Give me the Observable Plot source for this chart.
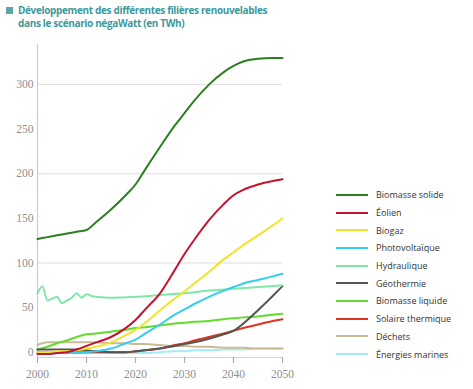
<!DOCTYPE html>
<html><head><meta charset="utf-8">
<script src="https://cdn.jsdelivr.net/npm/d3@7"></script>
<script src="https://cdn.jsdelivr.net/npm/@observablehq/plot@0.6"></script>
<style>
html,body{margin:0;padding:0;background:#fff;}
#wrap{position:relative;width:473px;height:389px;overflow:hidden;}
#title{position:absolute;left:18px;top:4px;font-family:"Open Sans",sans-serif;font-weight:700;font-size:10px;line-height:13px;color:#3d9a9c;letter-spacing:-0.35px;}
#sq{position:absolute;left:6px;top:7px;width:7px;height:7px;background:#5aa6a6;}
#legend{position:absolute;left:336px;top:186px;font-family:"Open Sans",sans-serif;font-size:9px;color:#333;}
.li{height:17.7px;display:flex;align-items:center;}
.sw{width:32px;height:2px;margin-right:8px;}
</style></head>
<body><div id="wrap"><div id="sq"></div><div id="title">Développement des différentes filières renouvelables<br>dans le scénario négaWatt (en TWh)</div><div id="legend"></div></div>
<script>
const years = [2000,2002,2004,2006,2008,2010,2012,2015,2018,2020,2022,2025,2028,2030,2032,2035,2038,2040,2042,2045,2048,2050];
const biomasseSolide = [127,129,131,133,135,137,146,160,176,188,205,230,254,268,282,300,314,321,326,329,330,330];
const eolien = [-2,-2,-1,0,3,7,11,17,27,36,48,66,92,110,126,148,166,176,182,188,192,194];
const biogaz = [0,0,1,1,2,4,6,11,19,25,33,47,60,68,77,90,104,112,120,131,142,150];
const photovoltaique = [-1,-1,-1,-1,-1,0,1,4,10,14,21,31,42,48,54,62,69,73,77,81,85,88];
const hydroYears = [2000,2001,2002,2003,2004,2005,2006,2007,2008,2009,2010,2011,2012,2015,2020,2025,2030,2035,2040,2045,2050];
const hydraulique = [66,74,58,60,62,55,58,61,66,61,65,63,62,61,62,64,66,69,71,73,75];
const geothermie = [3,3,3,3,3,2,1,0,0,1,2,4,7,9,11,15,20,24,32,47,63,74];
const biomasseLiquide = [3,6,10,13,17,20,21,23,25,27,28,30,32,33,34,35,37,38,39,40,42,43];
const solaireThermique = [0,0,0,0,0,0,0,0,0,1,2,4,8,10,13,17,21,24,27,31,35,37];
const dechets = [8,11,11,11,11,11,11,10,10,9,9,8,7,7,6,6,5,5,5,4,4,4];
const energiesMarines = [-1,-1,-1,-1,-1,-1,-1,-1,-1,-1,-1,0,1,1,2,2,3,3,3,4,4,4];

const seriesNames = ["Biomasse solide","Éolien","Biogaz","Photovoltaïque","Hydraulique","Géothermie","Biomasse liquide","Solaire thermique","Déchets","Énergies marines"];
const seriesColors = ["#2b7f20","#c4132f","#f2e42c","#35cdef","#80e6a8","#555555","#62dc2b","#df341d","#c9bb94","#a3ecf2"];
const seriesValues = [biomasseSolide,eolien,biogaz,photovoltaique,hydraulique,geothermie,biomasseLiquide,solaireThermique,dechets,energiesMarines];
const xTicks = [2000,2010,2020,2030,2040,2050];
const yTicks = [0,50,100,150,200,250,300];
const gridTicks = [100,200,300];

const rows = [];
seriesNames.forEach((name,i)=>{
  const ys = name==="Hydraulique" ? hydroYears : years;
  ys.forEach((yr,j)=>rows.push({name, year: yr, value: seriesValues[i][j], order:i}));
});
rows.sort((a,b)=>b.order-a.order);

const serif = "'Liberation Serif','DejaVu Serif',serif";
const chart = Plot.plot({
  width: 473, height: 389,
  marginLeft: 37, marginRight: 191, marginTop: 44, marginBottom: 32,
  x: {domain:[2000,2050], axis:null, label:null},
  y: {domain:[-6,345], axis:null, label:null},
  color: {domain: seriesNames, range: seriesColors},
  style: {background:"transparent"},
  marks: [
    Plot.ruleY(gridTicks, {stroke:"#dddddd", strokeWidth:1}),
    Plot.ruleY([-6], {stroke:"#d4d4d4", strokeWidth:1}),
    Plot.ruleX([2000], {stroke:"#cccccc", strokeWidth:1.2}),
    Plot.axisX(xTicks, {label:null, tickSize:6, stroke:"#aaaaaa", strokeWidth:1.2, tickFormat:d=>String(d), fontFamily:serif, fontSize:11.5, fill:"#8e8e8e", tickPadding:6}),
    Plot.axisY(yTicks, {label:null, tickSize:0, tickPadding:4, fontFamily:serif, fontSize:11.5, fill:"#8e8e8e"}),
    Plot.line(rows, {x:"year", y:"value", z:"name", stroke:"name", strokeWidth:2, curve:"monotone-x"})
  ]
});
chart.style.position="absolute"; chart.style.left="0"; chart.style.top="0";
document.getElementById("wrap").prepend(chart);

const leg = document.getElementById("legend");
seriesNames.forEach((n,i)=>{
  const d=document.createElement("div"); d.className="li";
  d.innerHTML=`<span class="sw" style="background:${seriesColors[i]}"></span><span>${n}</span>`;
  leg.appendChild(d);
});
</script></body></html>
